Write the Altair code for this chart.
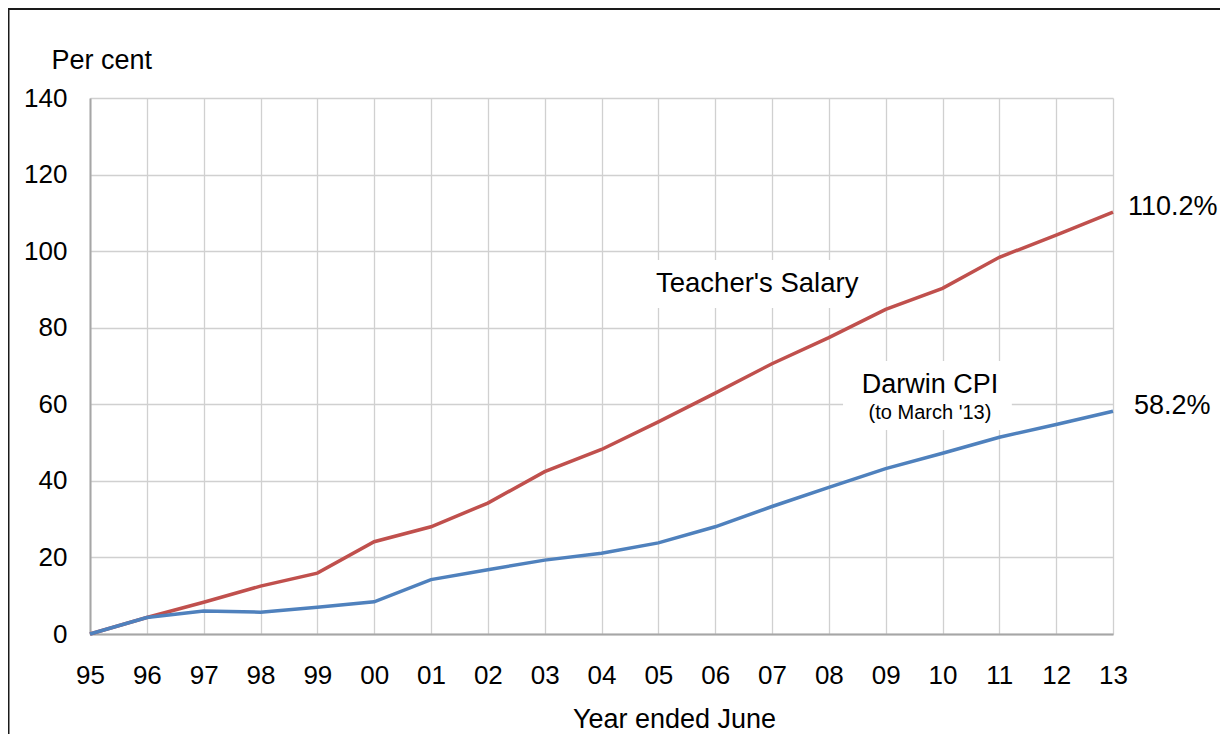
import altair as alt
import pandas as pd

# ---- data ----
years = list(range(1995, 2014))
teacher = [0, 4.3, 8.3, 12.5, 15.9, 24.1, 28.0, 34.2, 42.4, 48.2, 55.4, 62.9,
           70.6, 77.4, 84.8, 90.3, 98.4, 104.2, 110.2]
cpi = [0, 4.3, 6.0, 5.7, 7.0, 8.4, 14.2, 16.8, 19.3, 21.1, 23.8, 28.0,
       33.3, 38.3, 43.2, 47.2, 51.4, 54.7, 58.2]
series_names = ["Teacher's Salary", "Darwin CPI"]
series_colors = ["#C0504D", "#4F81BD"]
y_ticks = [0, 20, 40, 60, 80, 100, 120, 140]

# in-plot annotations
ann_text = ["Teacher's Salary", "Darwin CPI", "(to March '13)"]
ann_x = [2006.74, 2009.78, 2009.78]
ann_y = [89.25, 63.0, 56.1]
ann_size = [27.5, 27, 20]

# white boxes behind annotations
box_x1 = [2004.94, 2008.25]
box_x2 = [2008.55, 2011.22]
box_y1 = [85.15, 53.3]
box_y2 = [97.7, 71.3]

# end labels
end_text = ["110.2%", "58.2%"]
end_dx = [15, 21]

FONT = "Liberation Sans"

df = pd.DataFrame({
    "year": years + years,
    "value": teacher + cpi,
    "series": [series_names[0]] * len(years) + [series_names[1]] * len(years),
})

x_scale = alt.Scale(domain=[1995, 2013], nice=False, zero=False)
y_scale = alt.Scale(domain=[0, 140], nice=False)

x_axis = alt.Axis(
    values=years,
    labelExpr="substring(toString(datum.value), 2)",
    title="Year ended June",
    labelFlush=False,
    labelOverlap=False,
    labelPadding=28,
    labelBaseline="top",
    titleX=584,
    titleY=93,
    titleAlign="center",
    titleBaseline="alphabetic",
    titleFontSize=27,
)
y_axis = alt.Axis(
    values=y_ticks,
    title="Per cent",
    titleAngle=0,
    titleAlign="left",
    titleBaseline="alphabetic",
    titleX=-39,
    titleY=-30,
    titleFontSize=27,
    labelPadding=23,
    labelFlush=False,
)

lines = alt.Chart(df).mark_line(strokeWidth=3.5).encode(
    x=alt.X("year:Q", scale=x_scale, axis=x_axis),
    y=alt.Y("value:Q", scale=y_scale, axis=y_axis),
    color=alt.Color("series:N",
                    scale=alt.Scale(domain=series_names, range=series_colors),
                    legend=None),
    detail="series:N",
)

box_df = pd.DataFrame({"year": box_x1, "year2": box_x2,
                       "value": box_y1, "value2": box_y2})
boxes = alt.Chart(box_df).mark_rect(color="white").encode(
    x=alt.X("year:Q", scale=x_scale, title="Year ended June"),
    x2="year2:Q",
    y=alt.Y("value:Q", scale=y_scale, title="Per cent"),
    y2="value2:Q",
)

layers = [boxes, lines]

for t, xv, yv, fs in zip(ann_text, ann_x, ann_y, ann_size):
    adf = pd.DataFrame({"year": [xv], "value": [yv], "label": [t]})
    layers.append(
        alt.Chart(adf).mark_text(font=FONT, fontSize=fs, color="black",
                                 align="center", baseline="alphabetic").encode(
            x=alt.X("year:Q", scale=x_scale, title="Year ended June"),
            y=alt.Y("value:Q", scale=y_scale, title="Per cent"),
            text="label:N",
        )
    )

for t, series_vals, dx in zip(end_text, [teacher, cpi], end_dx):
    edf = pd.DataFrame({"year": [years[-1]], "value": [series_vals[-1]], "label": [t]})
    layers.append(
        alt.Chart(edf).mark_text(font=FONT, fontSize=27, color="black",
                                 align="left", baseline="alphabetic",
                                 dx=dx, dy=3).encode(
            x=alt.X("year:Q", scale=x_scale, title="Year ended June"),
            y=alt.Y("value:Q", scale=y_scale, title="Per cent"),
            text="label:N",
        )
    )

one = pd.DataFrame({"k": [0]})
border_left = alt.Chart(one).mark_rule(color="#1a1a1a", strokeWidth=2).encode(
    x=alt.value(-81.5), y=alt.value(-90), y2=alt.value(800))
border_top = alt.Chart(one).mark_rule(color="#1a1a1a", strokeWidth=2).encode(
    y=alt.value(-89), x=alt.value(-82), x2=alt.value(1300))
layers += [border_left, border_top]

chart = alt.layer(*layers).properties(
    width=1023,
    height=536,
    padding={"left": 82, "top": 90, "right": 107, "bottom": 100},
    autosize=alt.AutoSizeParams(type="none"),
    background="white",
).configure_view(
    stroke=None,
).configure_axis(
    labelFont=FONT,
    titleFont=FONT,
    labelFontSize=26,
    titleFontSize=27,
    labelColor="black",
    titleColor="black",
    titleFontWeight="normal",
    gridColor="#d0d0d0",
    gridWidth=1.3,
    domainColor="#a6a6a6",
    domainWidth=2,
    ticks=False,
    tickSize=0,
)

chart.save("out.html", embed_options={"renderer": "svg", "actions": False})
